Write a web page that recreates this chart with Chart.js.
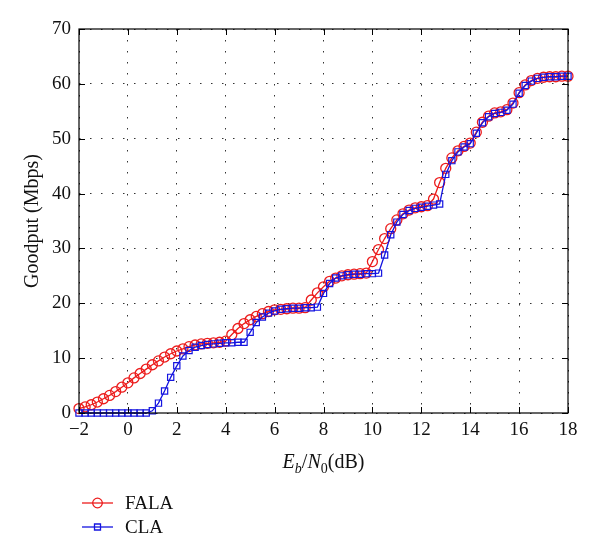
<!DOCTYPE html>
<html>
<head>
<meta charset="utf-8">
<script src="https://cdn.jsdelivr.net/npm/chart.js@4"></script>
<style>
  html, body { margin: 0; padding: 0; background: #fff; }
</style>
</head>
<body>
<canvas id="chart" width="600" height="555"></canvas>
<script>
// Eb/N0 grid (dB)
const ebn0 = [
  -2, -1.75, -1.5, -1.25, -1, -0.75, -0.5, -0.25, 0, 0.25,
  0.5, 0.75, 1, 1.25, 1.5, 1.75, 2, 2.25, 2.5, 2.75,
  3, 3.25, 3.5, 3.75, 4, 4.25, 4.5, 4.75, 5, 5.25,
  5.5, 5.75, 6, 6.25, 6.5, 6.75, 7, 7.25, 7.5, 7.75,
  8, 8.25, 8.5, 8.75, 9, 9.25, 9.5, 9.75, 10, 10.25,
  10.5, 10.75, 11, 11.25, 11.5, 11.75, 12, 12.25, 12.5, 12.75,
  13, 13.25, 13.5, 13.75, 14, 14.25, 14.5, 14.75, 15, 15.25,
  15.5, 15.75, 16, 16.25, 16.5, 16.75, 17, 17.25, 17.5, 17.75,
  18
];

// goodput (Mbps)
const fala = [
  0.8, 1.1, 1.5, 2.0, 2.6, 3.2, 3.9, 4.7, 5.5, 6.4,
  7.2, 8.0, 8.8, 9.5, 10.2, 10.8, 11.3, 11.7, 12.1, 12.4,
  12.6, 12.7, 12.8, 12.9, 13.1, 14.3, 15.4, 16.3, 17.0, 17.6,
  18.1, 18.5, 18.8, 18.9, 19.0, 19.1, 19.1, 19.2, 20.6, 21.9,
  23.0, 24.0, 24.6, 25.0, 25.2, 25.3, 25.4, 25.5, 27.6, 29.8,
  31.8, 33.6, 35.2, 36.3, 37.0, 37.4, 37.6, 37.8, 39.0, 42.0,
  44.6, 46.5, 47.8, 48.6, 49.2, 51.2, 53.0, 54.1, 54.7, 54.9,
  55.3, 56.5, 58.4, 59.8, 60.6, 61.0, 61.2, 61.3, 61.3, 61.4,
  61.4
];

const cla = [
  0, 0, 0, 0, 0, 0, 0, 0, 0, 0,
  0, 0, 0.4, 1.8, 4.0, 6.5, 8.6, 10.4, 11.4, 12.0,
  12.3, 12.5, 12.6, 12.7, 12.8, 12.8, 12.9, 12.9, 14.7, 16.5,
  17.5, 18.2, 18.6, 18.9, 19.0, 19.1, 19.1, 19.2, 19.2, 19.3,
  21.8, 23.6, 24.6, 25.0, 25.2, 25.3, 25.3, 25.4, 25.4, 25.5,
  28.8, 32.5, 34.8, 36.2, 36.9, 37.3, 37.5, 37.7, 37.9, 38.1,
  43.5, 46.0, 47.6, 48.5, 49.1, 51.0, 52.9, 54.0, 54.6, 54.8,
  55.2, 56.3, 58.3, 59.7, 60.5, 61.0, 61.2, 61.3, 61.3, 61.4,
  61.4
];

const xTicks = [-2, 0, 2, 4, 6, 8, 10, 12, 14, 16, 18];
const yTicks = [0, 10, 20, 30, 40, 50, 60, 70];

const seriesNames = ['FALA', 'CLA'];
const RED = '#ec1c1c';
const BLUE = '#1414e0';
const SERIF = '"Liberation Serif", "DejaVu Serif", serif';

const fmt = v => (v < 0 ? '\u2212' + Math.abs(v) : String(v));

// box, inward ticks, axis titles and legend (matlab look)
const decor = {
  id: 'decor',
  afterDraw(chart) {
    const { ctx, chartArea: a, scales: { x, y } } = chart;
    ctx.save();
    ctx.strokeStyle = '#000';
    ctx.lineWidth = 1.2;
    ctx.strokeRect(a.left, a.top, a.right - a.left, a.bottom - a.top);

    ctx.lineWidth = 1;
    ctx.beginPath();
    xTicks.forEach(t => {
      const px = Math.round(x.getPixelForValue(t)) + 0.5;
      ctx.moveTo(px, a.bottom); ctx.lineTo(px, a.bottom - 6);
      ctx.moveTo(px, a.top); ctx.lineTo(px, a.top + 6);
    });
    yTicks.forEach(t => {
      const py = Math.round(y.getPixelForValue(t)) + 0.5;
      ctx.moveTo(a.left, py); ctx.lineTo(a.left + 6, py);
      ctx.moveTo(a.right, py); ctx.lineTo(a.right - 6, py);
    });
    ctx.stroke();

    // y title
    ctx.fillStyle = '#111';
    ctx.font = '20px ' + SERIF;
    ctx.textAlign = 'center';
    ctx.textBaseline = 'middle';
    ctx.save();
    ctx.translate(33, (a.top + a.bottom) / 2);
    ctx.rotate(-Math.PI / 2);
    ctx.fillText('Goodput (Mbps)', 0, 0);
    ctx.restore();

    // x title: E_b/N_0(dB)
    const parts = [
      { t: 'E', f: 'italic 20px ' + SERIF, dy: 0 },
      { t: 'b', f: 'italic 14px ' + SERIF, dy: 5 },
      { t: '/', f: '20px ' + SERIF, dy: 0 },
      { t: 'N', f: 'italic 20px ' + SERIF, dy: 0 },
      { t: '0', f: '14px ' + SERIF, dy: 5 },
      { t: '(dB)', f: '20px ' + SERIF, dy: 0 }
    ];
    ctx.textAlign = 'left';
    ctx.textBaseline = 'alphabetic';
    let w = 0;
    parts.forEach(p => { ctx.font = p.f; p.w = ctx.measureText(p.t).width; w += p.w; });
    let cx = (a.left + a.right) / 2 - w / 2;
    const base = 468;
    parts.forEach(p => { ctx.font = p.f; ctx.fillText(p.t, cx, base + p.dy); cx += p.w; });

    // legend
    const rows = [
      { name: seriesNames[0], color: RED, shape: 'circle', y: 503 },
      { name: seriesNames[1], color: BLUE, shape: 'rect', y: 527 }
    ];
    rows.forEach(r => {
      ctx.strokeStyle = r.color;
      ctx.lineWidth = 1.3;
      ctx.beginPath();
      ctx.moveTo(82, r.y); ctx.lineTo(113, r.y);
      ctx.stroke();
      ctx.beginPath();
      if (r.shape === 'circle') ctx.arc(97.5, r.y, 4.8, 0, Math.PI * 2);
      else ctx.rect(94.5, r.y - 3, 6, 6);
      ctx.stroke();
      ctx.fillStyle = '#111';
      ctx.font = '19px ' + SERIF;
      ctx.textBaseline = 'middle';
      ctx.fillText(r.name, 125, r.y + 1);
    });
    ctx.restore();
  }
};

new Chart(document.getElementById('chart'), {
  type: 'line',
  data: {
    datasets: [
      {
        label: seriesNames[0],
        data: ebn0.map((v, i) => ({ x: v, y: fala[i] })),
        borderColor: RED,
        borderWidth: 1.3,
        pointStyle: 'circle',
        pointRadius: 5,
        pointBorderColor: RED,
        pointBackgroundColor: 'rgba(0,0,0,0)',
        pointBorderWidth: 1.3,
        order: 1,
        clip: false
      },
      {
        label: seriesNames[1],
        data: ebn0.map((v, i) => ({ x: v, y: cla[i] })),
        borderColor: BLUE,
        borderWidth: 1.3,
        pointStyle: 'rect',
        pointRadius: 4.4,
        pointBorderColor: BLUE,
        pointBackgroundColor: 'rgba(0,0,0,0)',
        pointBorderWidth: 1.2,
        order: 0,
        clip: false
      }
    ]
  },
  options: {
    responsive: false,
    animation: false,
    events: [],
    layout: { autoPadding: false, padding: { left: 0, top: 29, right: 32, bottom: 0 } },
    plugins: { legend: { display: false }, tooltip: { enabled: false } },
    elements: { line: { tension: 0 } },
    scales: {
      x: {
        type: 'linear',
        min: -2, max: 18,
        afterBuildTicks: s => { s.ticks = xTicks.map(v => ({ value: v })); },
        afterFit: s => { s.height = 142; },
        grid: { color: '#333', lineWidth: 1, drawTicks: false },
        border: { display: false, dash: [1.5, 9.5] },
        ticks: { callback: fmt, color: '#111', padding: 6, maxRotation: 0, font: { family: SERIF, size: 19 } }
      },
      y: {
        min: 0, max: 70,
        afterBuildTicks: s => { s.ticks = yTicks.map(v => ({ value: v })); },
        afterFit: s => { s.width = 79; },
        grid: { color: '#333', lineWidth: 1, drawTicks: false },
        border: { display: false, dash: [1.5, 9.5] },
        ticks: { callback: fmt, color: '#111', padding: 8, font: { family: SERIF, size: 19 } }
      }
    }
  },
  plugins: [decor]
});
</script>
</body>
</html>
